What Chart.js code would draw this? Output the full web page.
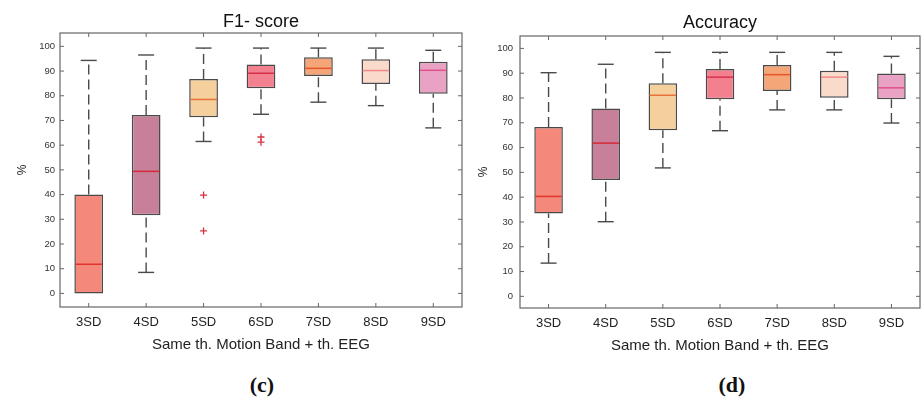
<!DOCTYPE html>
<html>
<head>
<meta charset="utf-8">
<script src="https://cdn.jsdelivr.net/npm/chart.js@4.4.1/dist/chart.umd.min.js"></script>
<style>
  body { margin: 0; background: #fff; width: 921px; height: 405px; overflow: hidden; position: relative; }
  canvas { position: absolute; top: 0; }
  #f1Chart { left: 0; }
  #accChart { left: 460px; }
  .tag { position: absolute; top: 372px; width: 60px; text-align: center; font: bold 22px "Liberation Serif", serif; color: #111; }
</style>
</head>
<body>
<canvas id="f1Chart" width="470" height="355"></canvas>
<canvas id="accChart" width="461" height="356"></canvas>
<div class="tag" style="left:232px">(c)</div>
<div class="tag" style="left:702px">(d)</div>
<script>
// categorias
const labels = ['3SD', '4SD', '5SD', '6SD', '7SD', '8SD', '9SD'];

// F1-score (c)
const f1Min = [0, 8.5, 61.5, 72.5, 77.4, 76, 67];
const f1Q1 = [0, 31.6, 71.3, 83, 88, 84.8, 80.8];
const f1Med = [11.8, 49.4, 78.5, 89.1, 91.1, 90.2, 90.3];
const f1Q3 = [40, 72.2, 86.8, 92.6, 95.6, 94.8, 93.8];
const f1Max = [94.3, 96.5, 99.3, 99.3, 99.3, 99.3, 98.4];
const f1Outliers = [{ x: '5SD', y: 39.8 }, { x: '5SD', y: 25.3 }, { x: '6SD', y: 63.3 }, { x: '6SD', y: 61.2 }];

// Accuracy (d)
const accMin = [13.4, 30.1, 51.8, 66.8, 75.2, 75.2, 69.9];
const accQ1 = [33.4, 46.9, 67.0, 79.5, 82.8, 80.1, 79.5];
const accMed = [40.3, 61.8, 81.1, 88.4, 89.4, 88.4, 84.1];
const accQ3 = [68.3, 75.8, 85.9, 91.7, 93.3, 91.0, 89.9];
const accMax = [90.2, 93.6, 98.4, 98.4, 98.4, 98.4, 96.8];

const yTicks = [0, 10, 20, 30, 40, 50, 60, 70, 80, 90, 100];

// colores
const boxColors = ['#f4887a', '#c8809a', '#f6d09c', '#f2808f', '#f4a678', '#f9dacb', '#e9a2c4'];
const medColors = ['#e0352b', '#d42a3a', '#e8703a', '#d8304a', '#e8552a', '#f08a8a', '#e0508a'];
const edge = '#4a4a4a';
const FONT = '"Liberation Sans", Arial, sans-serif';

// --- plugin: bigotes, medianas, marco ---
function boxPlugin(mins, meds, maxs, q1s, q3s) {
    return {
        id: 'boxExtras',
        beforeDatasetsDraw(chart) {
            const { ctx } = chart;
            const y = chart.scales.y;
            const bars = chart.getDatasetMeta(0).data;
            ctx.save();
            ctx.strokeStyle = edge;
            ctx.lineWidth = 1.4;
            bars.forEach((bar, i) => {
                const x = bar.x;
                const segs = [[q3s[i], maxs[i]], [mins[i], q1s[i]]];
                segs.forEach(([a, b]) => {
                    if (b - a < 0.01) return;
                    ctx.setLineDash([10, 5]);
                    ctx.beginPath();
                    ctx.moveTo(x, y.getPixelForValue(a));
                    ctx.lineTo(x, y.getPixelForValue(b));
                    ctx.stroke();
                });
                ctx.setLineDash([]);
                [mins[i], maxs[i]].forEach((v, k) => {
                    if (k === 0 && q1s[i] - v < 0.01) return;
                    const py = y.getPixelForValue(v);
                    ctx.beginPath();
                    ctx.moveTo(x - 8, py);
                    ctx.lineTo(x + 8, py);
                    ctx.stroke();
                });
            });
            ctx.restore();
        },
        afterDatasetsDraw(chart) {
            const { ctx, chartArea: a } = chart;
            const y = chart.scales.y;
            const xs = chart.scales.x;
            const bars = chart.getDatasetMeta(0).data;
            ctx.save();
            ctx.lineWidth = 1.5;
            bars.forEach((bar, i) => {
                const py = y.getPixelForValue(meds[i]);
                ctx.strokeStyle = medColors[i];
                ctx.beginPath();
                ctx.moveTo(bar.x - bar.width / 2 + 1, py);
                ctx.lineTo(bar.x + bar.width / 2 - 1, py);
                ctx.stroke();
            });
            // marco y marcas internas
            ctx.strokeStyle = '#666';
            ctx.lineWidth = 1.2;
            ctx.strokeRect(a.left, a.top, a.right - a.left, a.bottom - a.top);
            ctx.lineWidth = 1;
            y.ticks.forEach(t => {
                const py = y.getPixelForValue(t.value);
                ctx.beginPath();
                ctx.moveTo(a.left, py); ctx.lineTo(a.left + 4, py);
                ctx.moveTo(a.right, py); ctx.lineTo(a.right - 4, py);
                ctx.stroke();
            });
            labels.forEach((l, i) => {
                const px = xs.getPixelForTick(i);
                ctx.beginPath();
                ctx.moveTo(px, a.top); ctx.lineTo(px, a.top + 4);
                ctx.moveTo(px, a.bottom); ctx.lineTo(px, a.bottom - 4);
                ctx.stroke();
            });
            ctx.restore();
        }
    };
}

function makeChart(id, title, q1s, q3s, meds, mins, maxs, outliers, yMin, yMax, opts) {
    const ctx = document.getElementById(id).getContext('2d');
    return new Chart(ctx, {
        type: 'bar',
        data: {
            labels: labels,
            datasets: [
                {
                    data: q1s.map((q, i) => [q, q3s[i]]),
                    backgroundColor: boxColors,
                    borderColor: edge,
                    borderWidth: 1.5,
                    borderSkipped: false,
                    barPercentage: 0.5,
                    categoryPercentage: 1
                },
                {
                    type: 'line',
                    data: outliers,
                    showLine: false,
                    pointStyle: 'cross',
                    pointRadius: 3.5,
                    pointBorderColor: '#d8303e',
                    pointBorderWidth: 1.3
                }
            ]
        },
        options: {
            responsive: false,
            animation: false,
            layout: { padding: { left: 0, right: opts.padRight, top: 0, bottom: 0 } },
            plugins: {
                legend: { display: false },
                tooltip: { enabled: false },
                title: {
                    display: true, text: title, fullSize: false, color: '#111',
                    font: { family: FONT, size: 18, weight: 'normal' },
                    padding: { top: opts.titleTop, bottom: 33 - opts.titleTop - 21.6 + opts.extraTop }
                }
            },
            scales: {
                x: {
                    grid: { display: false, drawTicks: false },
                    border: { display: false },
                    ticks: { color: '#222', padding: 8, font: { family: FONT, size: 13 } },
                    title: {
                        display: true, text: 'Same th. Motion Band + th. EEG', color: '#222',
                        font: { family: FONT, size: 15 }, padding: { top: 0, bottom: 1.6 }
                    },
                    afterFit: s => { s.height = 48; }
                },
                y: {
                    min: yMin, max: yMax,
                    grid: { display: false, drawTicks: false },
                    border: { display: false },
                    afterBuildTicks: s => { s.ticks = yTicks.map(v => ({ value: v })); },
                    ticks: { color: '#333', padding: opts.yPad, font: { family: FONT, size: 9.5 } },
                    title: {
                        display: true, text: '%', color: '#222',
                        font: { family: FONT, size: 12 }, padding: { top: opts.pctPad, bottom: 0 }
                    },
                    afterFit: s => { s.width = 60; }
                }
            }
        },
        plugins: [boxPlugin(mins, meds, maxs, q1s, q3s)]
    });
}

makeChart('f1Chart', 'F1- score', f1Q1, f1Q3, f1Med, f1Min, f1Max, f1Outliers, -5.5, 105.4,
    { padRight: 8, titleTop: 11, extraTop: 0, yPad: 5, pctPad: 15 });
makeChart('accChart', 'Accuracy', accQ1, accQ3, accMed, accMin, accMax, [], -4.7, 105,
    { padRight: 1, titleTop: 12, extraTop: 3, yPad: 7, pctPad: 16 });
</script>
</body>
</html>
